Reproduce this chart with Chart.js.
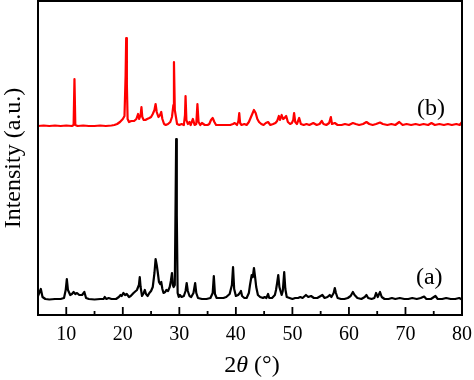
<!DOCTYPE html>
<html><head><meta charset="utf-8">
<script src="https://cdn.jsdelivr.net/npm/chart.js@4/dist/chart.umd.min.js"></script>
<style>html,body{margin:0;padding:0;background:#fff}#wrap{width:474px;height:380px}</style>
</head><body><div id="wrap"><canvas id="c" width="474" height="380"></canvas></div>
<script>
const xTickLabels = ['10','20','30','40','50','60','70','80'];
const seriesLabels = ['(a)','(b)'];
const blackAngle = [5.0,5.5,5.8,6.3,7.0,8.0,9.0,9.6,9.9,10.1,10.3,10.7,11.0,11.3,11.6,11.9,12.3,12.8,13.2,13.5,14.0,15.0,16.0,16.6,16.8,17.1,17.5,18.0,18.8,19.3,19.6,19.8,20.1,20.4,20.7,21.1,21.4,21.9,22.5,22.85,23.0,23.15,23.4,23.7,23.9,24.1,24.4,24.7,25.0,25.3,25.6,25.8,26.0,26.2,26.4,26.6,26.8,27.0,27.2,27.5,27.7,28.0,28.3,28.5,28.7,28.85,29.0,29.2,29.35,29.44,29.55,29.7,29.9,30.1,30.4,30.8,31.1,31.3,31.5,31.8,32.1,32.5,32.8,33.0,33.3,34.0,34.8,35.5,35.9,36.1,36.3,36.6,37.2,37.8,38.3,38.9,39.3,39.5,39.7,40.0,40.4,40.7,40.9,41.1,41.5,41.9,42.3,42.5,42.8,43.0,43.2,43.4,43.6,43.9,44.3,44.8,45.1,45.4,45.7,45.9,46.4,46.9,47.1,47.3,47.5,47.7,47.9,48.1,48.3,48.55,48.75,49.0,49.5,50.0,50.5,51.0,51.4,51.8,52.4,52.8,53.3,53.8,54.4,55.0,55.3,55.7,56.2,56.6,56.9,57.3,57.5,57.7,58.0,58.6,59.2,59.8,60.3,60.7,61.0,61.5,62.2,62.8,63.1,63.4,64.0,64.5,64.8,65.1,65.5,65.8,66.3,67.0,67.6,68.2,69.0,69.8,70.5,71.2,72.0,72.7,73.3,73.7,74.5,75.3,75.7,76.5,77.2,78.0,78.8,79.5,80.0];
const blackIntensity = [19,26,18,16,15.5,16,16,17,25,36,25,20,21,23,21,22,20,20,23,17,16,15.5,16,16,18,16,17,16,16,18,20,19,22,20,21,18,19,22,25,30,38,28,19,22,25,21,19,22,24,28,42,56,50,42,33,31,33,26,22,23,25,24,28,34,42,30,28,30,120,176,100,22,18,20,18,19,24,32,24,19,18,22,32,22,17,16,16,17,22,39,21,17,17,17,18,21,30,48,26,19,20,22,24,19,17,17,22,30,40,38,47,38,28,20,18,17,18,17,21,17,17,20,25,32,40,28,24,20,24,43,26,18,17,16,17,17,18,17,20,18,19,17,17,19,20,17,18,20,18,22,27,22,17,16,16,17,19,23,20,17,16,18,20,17,16,17,22,18,23,18,16,16,17,16,17,16,16,17,16,17,18.5,16,16,19,16,16,17,16,16,17,15.5];
const redAngle = [5.0,6.0,7.0,8.0,9.0,10.0,11.0,11.3,11.45,11.6,12.0,13.0,14.0,15.0,16.0,17.0,18.0,18.5,19.0,19.5,20.0,20.3,20.5,20.6,20.72,20.85,21.1,21.5,22.0,22.4,22.7,22.9,23.15,23.3,23.45,23.7,24.0,24.3,24.7,25.0,25.3,25.6,25.8,26.0,26.3,26.6,26.8,27.0,27.3,27.6,28.0,28.4,28.7,28.95,29.05,29.2,29.4,29.6,30.0,30.4,30.8,31.0,31.1,31.25,31.5,31.8,32.0,32.4,32.7,33.0,33.2,33.4,33.7,34.0,34.5,35.0,35.3,35.6,35.9,36.2,36.5,37.0,37.5,38.0,38.5,39.0,39.5,39.8,40.2,40.45,40.6,40.75,41.0,41.5,41.9,42.3,42.6,42.9,43.2,43.5,43.8,44.1,44.5,44.9,45.3,45.7,46.1,46.6,47.0,47.3,47.6,47.8,48.1,48.35,48.6,48.9,49.2,49.6,49.9,50.15,50.3,50.5,50.8,51.2,51.5,52.0,52.5,53.0,53.7,54.3,54.8,55.2,55.5,56.0,56.5,56.8,57.0,57.5,58.0,58.7,59.3,60.0,60.7,61.2,61.8,62.5,63.1,63.6,64.2,64.8,65.5,66.0,66.8,67.5,68.2,68.9,69.5,70.2,71.0,71.8,72.5,73.2,74.0,74.6,75.2,76.0,76.8,77.5,78.2,79.0,79.6,80.0];
const redIntensity = [189,189.5,189,189.5,189,189.5,189,190,236,190,189,189.5,189,189,189.5,189,189.5,190,191,193,196,199,240,277,230,196,193,194,194,196,201,196,200,208,198,195,195,196,197,198,201,205,211,203,198,200,203,196,191,190,191,193,198,210,253,205,198,191,190,191,190,200,219,195,191,193,190,196,190,191,211,193,190,192,190,190,191,195,197,193,190,190,190,190,190,190,191,192,190,194,202,192,190,191,190,193,197,201,205,202,196,193,191,190,192,193,190,191,192,194,199,195,200,196,197,199,193,191,192,195,202,193,191,197,191,190,191,190,192,190,191,194,191,190,192,198,191,192,190,190,191,190,192,191,190,191,193,191,190,191,192.5,191,190,191,190,193,190,191,190,191,190,191,190,192,190,191,190,191,190,191,190,193];

const toPts = (xs, ys) => xs.map((x, i) => ({x: x, y: ys[i]}));
const SERIF = '"Liberation Serif", "Times New Roman", serif';

const framePlugin = {
  id: 'frame',
  afterDraw(chart) {
    const ctx = chart.ctx, a = chart.chartArea, xs = chart.scales.x, ys = chart.scales.y;
    ctx.save();
    ctx.strokeStyle = '#000';
    ctx.lineWidth = 2;
    ctx.strokeRect(a.left, a.top, a.right - a.left, a.bottom - a.top);
    ctx.lineWidth = 1.8;
    xs.ticks.forEach(t => {
      const px = xs.getPixelForValue(t.value);
      const len = (t.value % 10 === 0) ? 8 : 4;
      ctx.beginPath();
      ctx.moveTo(px, a.bottom);
      ctx.lineTo(px, a.bottom - len);
      ctx.stroke();
    });
    ctx.fillStyle = '#000';
    ctx.textAlign = 'center';
    ctx.textBaseline = 'middle';
    ctx.font = '24px ' + SERIF;
    ctx.fillText(seriesLabels[1], xs.getPixelForValue(74.5), ys.getPixelForValue(206));
    ctx.fillText(seriesLabels[0], xs.getPixelForValue(74.2), ys.getPixelForValue(37));
    const parts = [['2','normal'],['\u03B8','italic'],[' (\u00B0)','normal']];
    let total = 0;
    parts.forEach(p => { ctx.font = p[1] + ' 24px ' + SERIF; total += ctx.measureText(p[0]).width; });
    let x = (a.left + a.right) / 2 - total / 2 + 2;
    ctx.textAlign = 'left';
    parts.forEach(p => { ctx.font = p[1] + ' 24px ' + SERIF; ctx.fillText(p[0], x, 366); x += ctx.measureText(p[0]).width; });
    ctx.restore();
  }
};

new Chart(document.getElementById('c'), {
  type: 'line',
  data: {
    datasets: [
      {label: 'a', data: toPts(blackAngle, blackIntensity), borderColor: '#000', borderWidth: 2.2, pointRadius: 0, tension: 0, borderJoinStyle: 'round'},
      {label: 'b', data: toPts(redAngle, redIntensity), borderColor: '#ff0000', borderWidth: 2.2, pointRadius: 0, tension: 0, borderJoinStyle: 'round'}
    ]
  },
  options: {
    responsive: false,
    animation: false,
    events: [],
    layout: {padding: {left: 0, right: 12, top: 1, bottom: 35}},
    plugins: {legend: {display: false}, tooltip: {enabled: false}},
    scales: {
      x: {
        type: 'linear', min: 5, max: 80,
        grid: {display: false, drawTicks: false},
        border: {display: false},
        afterFit: s => { s.height = 30; s.paddingLeft = 0; s.paddingRight = 0; },
        ticks: {
          stepSize: 5, padding: 8, color: '#000', maxRotation: 0, autoSkip: false,
          font: {family: SERIF, size: 20},
          callback: v => { const s = String(v); return xTickLabels.includes(s) ? s : ''; }
        }
      },
      y: {
        min: 0, max: 314,
        grid: {display: false, drawTicks: false},
        border: {display: false},
        afterFit: s => { s.width = 38; s.paddingTop = 0; s.paddingBottom = 0; },
        ticks: {display: false},
        title: {display: true, text: 'Intensity (a.u.)', color: '#000', font: {family: SERIF, size: 24, lineHeight: 1}, padding: {top: 2, bottom: 12}}
      }
    }
  },
  plugins: [framePlugin]
});
</script>
</body></html>
